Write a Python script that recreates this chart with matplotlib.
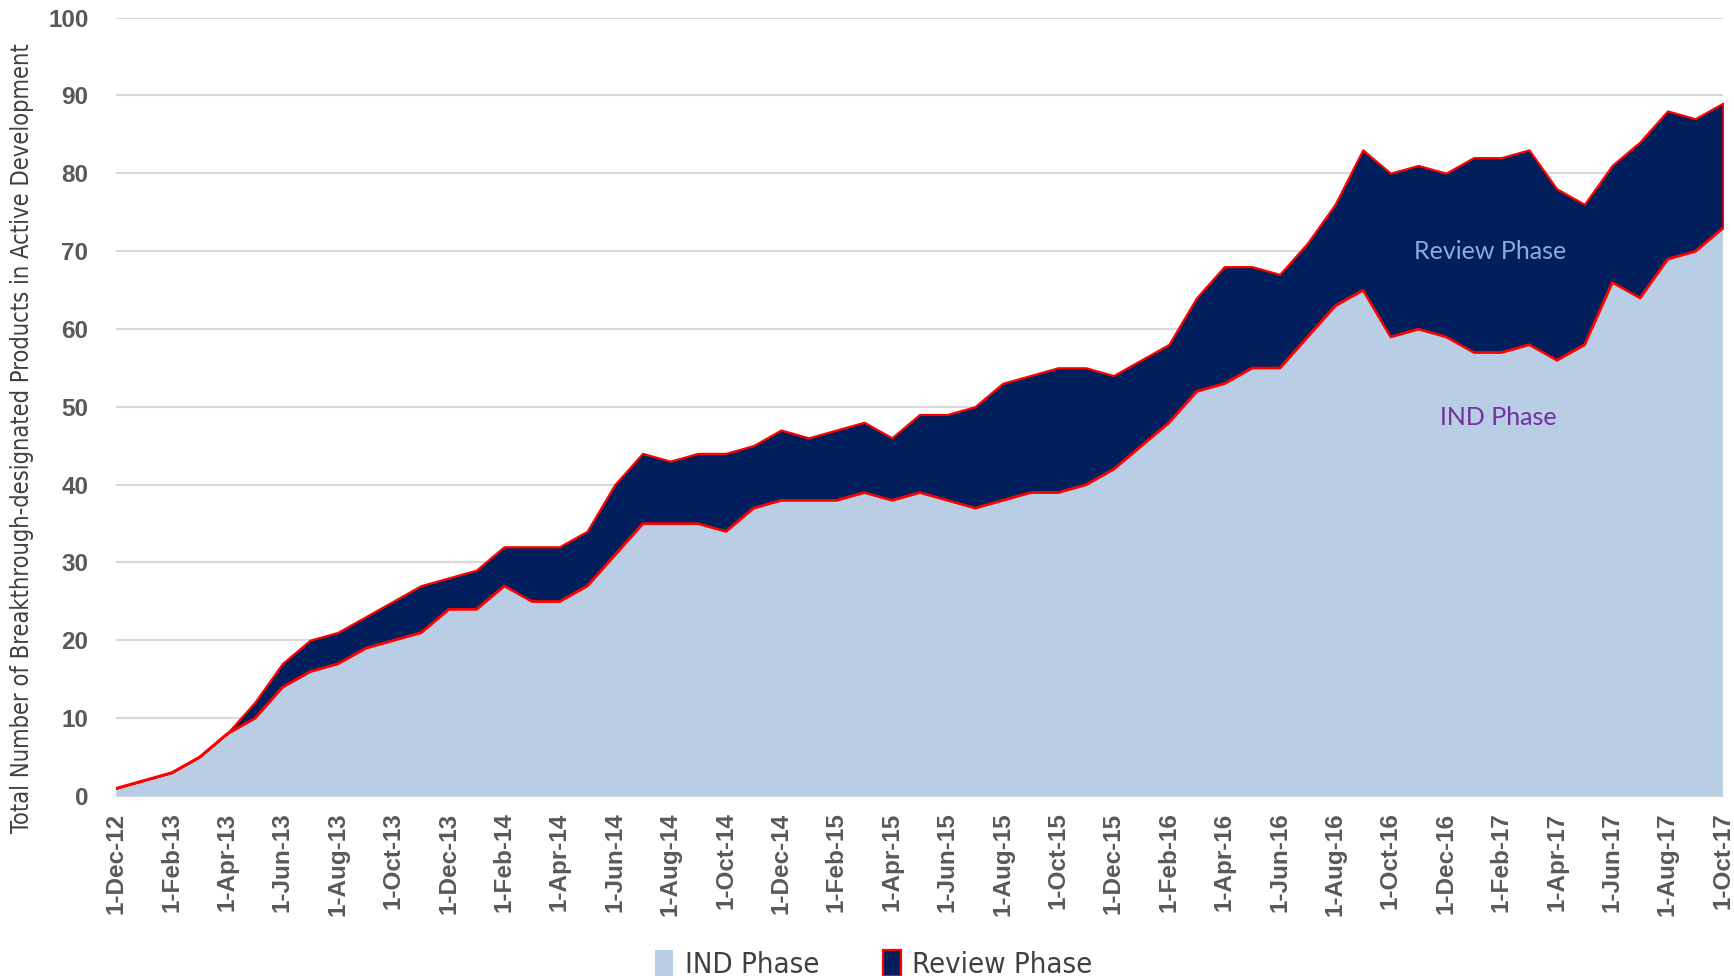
""" stacked area chart: breakthrough-designated products in active development """

import matplotlib
matplotlib.use("Agg")
import matplotlib.pyplot as plt
import pandas as pd

###############################################################################
# data (one value per month)
###############################################################################
months = pd.date_range("2012-12-01", "2017-10-01", freq="MS")

ind_phase = [1, 2, 3, 5, 8, 10, 14, 16, 17, 19,
             20, 21, 24, 24, 27, 25, 25, 27, 31, 35,
             35, 35, 34, 37, 38, 38, 38, 39, 38, 39,
             38, 37, 38, 39, 39, 40, 42, 45, 48, 52,
             53, 55, 55, 59, 63, 65, 59, 60, 59, 57,
             57, 58, 56, 58, 66, 64, 69, 70, 73]

review_phase = [0, 0, 0, 0, 0, 2, 3, 4, 4, 4,
                5, 6, 4, 5, 5, 7, 7, 7, 9, 9,
                8, 9, 10, 8, 9, 8, 9, 9, 8, 10,
                11, 13, 15, 15, 16, 15, 12, 11, 10, 12,
                15, 13, 12, 12, 13, 18, 21, 21, 21, 25,
                25, 25, 22, 18, 15, 20, 19, 17, 16]

series_names = ["IND Phase", "Review Phase"]
y_ticks = [0, 10, 20, 30, 40, 50, 60, 70, 80, 90, 100]

###############################################################################
# plot
###############################################################################
fig = plt.figure(figsize=(17.34, 9.76), dpi=100)
ax = fig.add_axes([0.067, 0.1846, 0.9266, 0.7974])

x = list(range(len(months)))
polys = ax.stackplot(x, ind_phase, review_phase,
                     colors=["#B9CDE5", "#001F5C"],
                     labels=series_names, zorder=2)
polys[0].set_linewidth(0)
polys[1].set_edgecolor("red")
polys[1].set_linewidth(1.6)
ax.plot(x, ind_phase, color="red", linewidth=1.6, zorder=3)

ax.set_xlim(0, len(months) - 1)
ax.set_ylim(0, 100)
ax.set_yticks(y_ticks)
ax.set_xticks(x[::2])
ax.set_xticklabels([f"1-{d:%b-%y}" for d in months[::2]],
                   rotation=90, fontsize=17.5, fontweight="bold",
                   color="#595959", family="Liberation Sans")
ax.tick_params(axis="x", length=0, pad=12)
ax.tick_params(axis="y", length=0, pad=20, labelsize=17.5,
               labelcolor="#595959")
for lbl in ax.get_yticklabels():
    lbl.set_fontweight("bold")
    lbl.set_family("Liberation Sans")

ax.grid(axis="y", color="#D9D9D9", linewidth=1.5, zorder=0)
ax.set_axisbelow(True)
for side in ["top", "right", "left"]:
    ax.spines[side].set_visible(False)
ax.spines["bottom"].set_color("#D9D9D9")

# condensed face for the axis title and the legend (if installed)
narrow = dict(family="DejaVu Sans", stretch="condensed")
ax.set_ylabel("Total Number of Breakthrough-designated Products in Active Development",
              fontsize=17, color="#404040", **narrow)
ax.yaxis.set_label_coords(-0.051, 0.459)

# labels inside the areas
ax.text(49.6, 70, "Review Phase", fontsize=18, color="#8EA9DB",
        family="Lato", ha="center", va="center")
ax.text(49.9, 48.6, "IND Phase", fontsize=18, color="#7030A0",
        family="Lato", ha="center", va="center")

fig.legend(loc="lower center", bbox_to_anchor=(0.504, -0.03), ncol=2,
           frameon=False, handlelength=0.6, handleheight=1.0,
           columnspacing=2.2, handletextpad=0.4,
           prop=dict(size=21, **narrow))
for t in fig.legends[0].get_texts():
    t.set_color("#404040")

fig.savefig("out.png", dpi=100)
